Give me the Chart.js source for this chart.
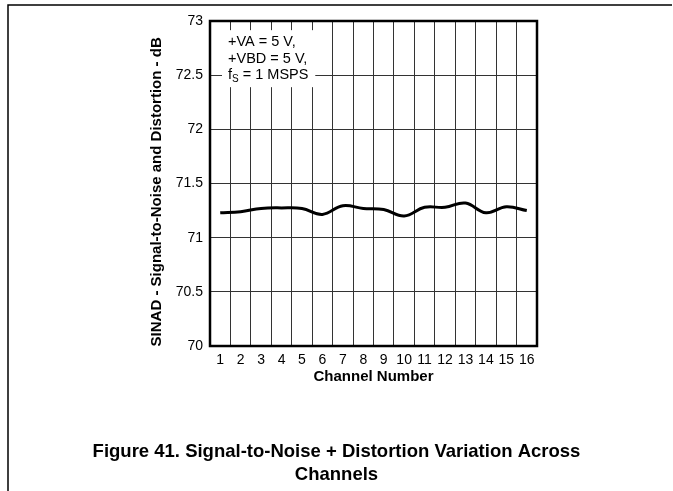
<!DOCTYPE html>
<html>
<head>
<meta charset="utf-8">
<title>SINAD across channels</title>
<script src="https://cdn.jsdelivr.net/npm/chart.js@4/dist/chart.umd.min.js"></script>
<style>
  html, body { margin: 0; padding: 0; background: #fff; }
  #wrap { width: 673px; height: 491px; position: relative; }
</style>
</head>
<body>
<div id="wrap"><canvas id="c" width="673" height="491"></canvas></div>
<script>
// Channel numbers along the x axis
const channels = ['1','2','3','4','5','6','7','8','9','10','11','12','13','14','15','16'];
// Measured SINAD per channel, dB
const sinad = [71.23, 71.24, 71.27, 71.275, 71.27, 71.215, 71.295, 71.27, 71.26, 71.20, 71.28, 71.28, 71.32, 71.23, 71.285, 71.25];
// Y axis tick values and their printed labels, dB
const yTicks = [70, 70.5, 71, 71.5, 72, 72.5, 73];
const yTickLabels = ['70', '70.5', '71', '71.5', '72', '72.5', '73'];
// Test conditions legend text
const condLines = ['+VA = 5 V,', '+VBD = 5 V,'];
const condFs = ['f', 'S', ' = 1 MSPS'];
const xTitle = 'Channel Number';
const yTitle = 'SINAD - Signal-to-Noise and Distortion - dB';
const caption = ['Figure 41. Signal-to-Noise + Distortion Variation Across', 'Channels'];

const FONT = "'Liberation Sans', Arial, Helvetica, sans-serif";

// Page frame (top and left rules)
const pageFrame = {
  id: 'pageFrame',
  beforeDraw(chart) {
    const ctx = chart.ctx;
    ctx.save();
    ctx.strokeStyle = '#000';
    ctx.lineWidth = 1.5;
    ctx.beginPath();
    ctx.moveTo(8, chart.height);
    ctx.lineTo(8, 5);
    ctx.lineTo(chart.width - 1, 5);
    ctx.stroke();
    ctx.restore();
  }
};

// Conditions box in the upper-left corner of the plot
const conditions = {
  id: 'conditions',
  beforeDatasetsDraw(chart) {
    const ctx = chart.ctx;
    const area = chart.chartArea;
    const y = chart.scales.y;
    const tx = area.left + 18;
    const yLast = y.getPixelForValue(72.5);
    const step = 17;
    ctx.save();
    ctx.font = '14.5px ' + FONT;
    let w = 0;
    condLines.forEach(t => { w = Math.max(w, ctx.measureText(t).width); });
    ctx.fillStyle = '#fff';
    ctx.fillRect(tx - 6, yLast - 2 * step - 11, w + 14, 2 * step + 23);
    ctx.fillStyle = '#000';
    ctx.textBaseline = 'middle';
    ctx.textAlign = 'left';
    condLines.forEach((t, i) => ctx.fillText(t, tx, yLast - (2 - i) * step + 1));
    // f with subscript S
    let x = tx;
    ctx.fillText(condFs[0], x, yLast);
    x += ctx.measureText(condFs[0]).width;
    ctx.font = '10px ' + FONT;
    ctx.fillText(condFs[1], x, yLast + 4);
    x += ctx.measureText(condFs[1]).width;
    ctx.font = '14.5px ' + FONT;
    ctx.fillText(condFs[2], x, yLast);
    ctx.restore();
  }
};

// Heavy frame round the plotting area
const plotFrame = {
  id: 'plotFrame',
  afterDatasetsDraw(chart) {
    const a = chart.chartArea;
    const ctx = chart.ctx;
    ctx.save();
    ctx.strokeStyle = '#000';
    ctx.lineWidth = 2.5;
    ctx.strokeRect(a.left, a.top, a.right - a.left, a.bottom - a.top);
    ctx.restore();
  }
};

new Chart(document.getElementById('c'), {
  type: 'line',
  data: {
    labels: channels,
    datasets: [{
      data: sinad,
      borderColor: '#000',
      borderWidth: 3,
      pointRadius: 0,
      tension: 0.4,
      fill: false
    }]
  },
  options: {
    responsive: false,
    animation: false,
    devicePixelRatio: 1,
    layout: { padding: { left: 40, right: 40, top: 21, bottom: 0 } },
    plugins: {
      legend: { display: false },
      tooltip: { enabled: false },
      title: {
        display: true,
        position: 'bottom',
        text: caption,
        color: '#000',
        font: { family: FONT, size: 18.5, weight: 'bold', lineHeight: 1.243 },
        padding: { top: 49.5, bottom: 4.5 }
      }
    },
    scales: {
      x: {
        type: 'category',
        offset: true,
        grid: { offset: true, color: '#333', lineWidth: 1, drawTicks: false },
        border: { display: false },
        ticks: { color: '#000', font: { family: FONT, size: 14 }, padding: 6, maxRotation: 0, autoSkip: false },
        title: {
          display: true, text: xTitle, color: '#000',
          font: { family: FONT, size: 15, weight: 'bold', lineHeight: 1.2 },
          padding: { top: 0, bottom: 5 }
        },
        afterFit(s) { s.height = 45; }
      },
      y: {
        type: 'linear',
        min: 70,
        max: 73,
        afterBuildTicks(axis) { axis.ticks = yTicks.map(v => ({ value: v })); },
        grid: { color: '#333', lineWidth: 1, drawTicks: false },
        border: { display: false },
        ticks: {
          color: '#000', font: { family: FONT, size: 14 }, padding: 7,
          callback: (v, i) => yTickLabels[i]
        },
        title: {
          display: true, text: yTitle + '\u00a0\u00a0\u00a0\u00a0', color: '#000',
          font: { family: FONT, size: 15, weight: 'bold', lineHeight: 1.2 },
          padding: { top: 108, bottom: 0 }
        },
        afterFit(s) { s.width = 170; }
      },
      yRight: {
        type: 'linear',
        position: 'right',
        min: 70,
        max: 73,
        grid: { display: false, drawTicks: false },
        border: { display: false },
        ticks: { display: false },
        afterFit(s) { s.width = 96; }
      }
    }
  },
  plugins: [pageFrame, conditions, plotFrame]
});
</script>
</body>
</html>
